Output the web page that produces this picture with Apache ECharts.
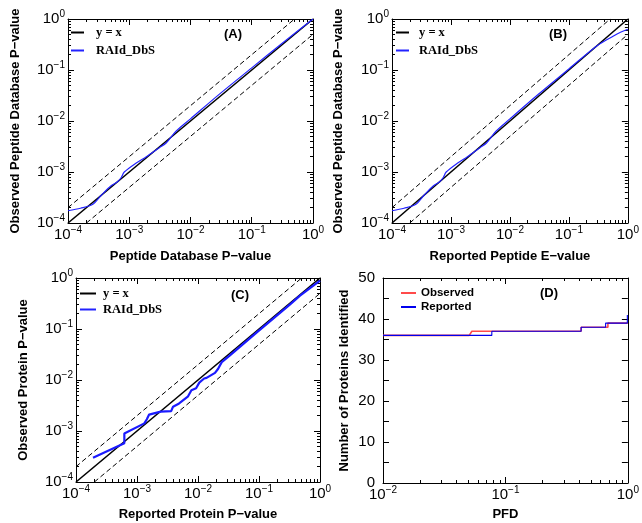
<!DOCTYPE html>
<html><head><meta charset="utf-8">
<script src="https://cdn.jsdelivr.net/npm/echarts@6/dist/echarts.min.js"></script>
<style>html,body{margin:0;padding:0;background:#fff}#c{width:642px;height:523px}</style>
</head><body><div id="c"></div>
<script>
// ---------- data ----------
const logMajorTicks = [1e-4, 1e-3, 1e-2, 1e-1, 1];
const pfdMajorTicks = [1e-2, 1e-1, 1];
const countTicks = [0, 10, 20, 30, 40, 50];

const diagX = [1e-4, 1];
const diagY = [1e-4, 1];
const upperX = [1e-4, 0.5];
const upperY = [2e-4, 1];
const lowerX = [2e-4, 1];
const lowerY = [1e-4, 0.5];

// Panel A: Peptide Database P-value vs observed
const aX = [1.0e-4, 1.6e-4, 2.5e-4, 3.5e-4, 5.0e-4, 6.5e-4, 7.4e-4, 8.3e-4, 1.3e-3, 1.9e-3, 3.1e-3, 4.0e-3, 5.8e-3, 1.0e-2, 3.0e-2, 0.1, 0.3, 1];
const aY = [1.74e-4, 1.95e-4, 2.3e-4, 3.5e-4, 5.3e-4, 6.5e-4, 7.8e-4, 1.0e-3, 1.5e-3, 2.0e-3, 3.0e-3, 3.7e-3, 6.3e-3, 1.1e-2, 3.4e-2, 0.11, 0.32, 1];

// Panel B: Reported peptide E-value vs observed
const bX = [1.0e-4, 1.6e-4, 2.5e-4, 3.5e-4, 5.0e-4, 6.5e-4, 7.4e-4, 8.3e-4, 1.3e-3, 1.9e-3, 3.1e-3, 4.0e-3, 5.8e-3, 1.0e-2, 3.0e-2, 0.1, 0.3, 0.56, 0.75, 1];
const bY = [1.74e-4, 1.95e-4, 2.3e-4, 3.5e-4, 5.3e-4, 6.5e-4, 7.8e-4, 1.0e-3, 1.5e-3, 2.0e-3, 3.0e-3, 3.7e-3, 6.3e-3, 1.1e-2, 3.3e-2, 0.105, 0.3, 0.46, 0.55, 0.63];

// Panel C: Reported protein P-value vs observed
const cX = [1.9e-4, 6.2e-4, 6.2e-4, 1.32e-3, 1.45e-3, 1.58e-3, 2.45e-3, 3.63e-3, 3.9e-3, 4.9e-3, 6.8e-3, 7.8e-3, 9.3e-3, 1.05e-2, 1.26e-2, 1.38e-2, 1.9e-2, 2.14e-2, 2.45e-2, 3.3e-2, 0.091, 0.32, 0.47, 1];
const cY = [3.0e-4, 5.75e-4, 8.9e-4, 1.41e-3, 1.7e-3, 2.1e-3, 2.4e-3, 2.45e-3, 3.0e-3, 3.47e-3, 4.7e-3, 6.3e-3, 6.9e-3, 8.9e-3, 1.07e-2, 1.1e-2, 1.38e-2, 1.66e-2, 2.24e-2, 3.0e-2, 0.085, 0.30, 0.45, 0.89];

// Panel D: number of proteins identified vs PFD
const dObsX = [0.01, 0.0506, 0.0532, 0.415, 0.415, 0.687, 0.687, 1.0];
const dObsY = [36, 36, 37, 37, 38, 38, 39, 39];
const dRepX = [0.01, 0.0774, 0.0774, 0.415, 0.415, 0.658, 0.658, 0.99, 0.99, 1.0];
const dRepY = [36, 36, 37, 37, 38, 38, 39, 39, 41, 41];

// ---------- helpers ----------
const zip = (xs, ys) => xs.map((x, i) => [x, ys[i]]);
const FONT = '"Liberation Sans", Arial, Helvetica, sans-serif';
const rich = {
  b: {fontSize: 15, lineHeight: 20, fontFamily: FONT, color: '#000'},
  s: {fontSize: 10, lineHeight: 10, verticalAlign: 'top', fontFamily: FONT, color: '#000'}
};
function pow10Label(v) {
  const e = Math.round(Math.log10(v));
  return '{b|10}{s|' + (e < 0 ? '\u2212' + (-e) : e) + '}';
}
const nameStyle = {fontFamily: FONT, fontWeight: 'bold', fontSize: 13, color: '#000'};
const lineBlack = {color: '#000', width: 1};

const xAxes = [], yAxes = [];
function addLogAxes(list, grid, min, max, positions, name, nameGap, isY) {
  const first = list.length;
  positions.forEach((pos, k) => {
    list.push({
      type: 'log', logBase: 10, gridIndex: grid, min: min, max: max, splitLine: {show: false},
      position: pos,
      name: k === 0 ? name : '',
      nameLocation: 'middle', nameGap: nameGap, nameTextStyle: nameStyle,
      axisLine: {show: true, onZero: false, lineStyle: lineBlack},
      axisTick: {show: true, inside: true, length: 6, lineStyle: lineBlack},
      minorTick: {show: true, splitNumber: 9, length: 3, lineStyle: lineBlack},
      axisLabel: {show: k === 0, formatter: pow10Label, rich: rich, margin: isY ? 3 : 2}
    });
  });
  return first;
}
function addValueY(grid, name, nameGap) {
  const first = yAxes.length;
  ['left', 'right'].forEach((pos, k) => {
    yAxes.push({
      type: 'value', gridIndex: grid, min: 0, max: 50, interval: 10, position: pos,
      name: k === 0 ? name : '', nameLocation: 'middle', nameGap: nameGap, nameTextStyle: nameStyle,
      splitLine: {show: false},
      axisLine: {show: true, onZero: false, lineStyle: lineBlack},
      axisTick: {show: true, inside: true, length: 6, lineStyle: lineBlack},
      minorTick: {show: true, splitNumber: 2, length: 6, lineStyle: lineBlack},
      axisLabel: {show: k === 0, fontSize: 15, fontFamily: FONT, color: '#000', margin: 8}
    });
  });
  return first;
}

const grids = [
  {left: 68, top: 19, width: 245, height: 204},
  {left: 392, top: 19, width: 244, height: 204},
  {left: 76, top: 278, width: 244, height: 204},
  {left: 383, top: 278, width: 245, height: 205}
];

const xA = addLogAxes(xAxes, 0, 1e-4, 1, ['bottom', 'top'], 'Peptide Database P\u2212value', 27, false);
const yA = addLogAxes(yAxes, 0, 1e-4, 1, ['left', 'right'], 'Observed Peptide Database P\u2212value', 46, true);
const xB = addLogAxes(xAxes, 1, 1e-4, 1, ['bottom', 'top'], 'Reported Peptide E\u2212value', 27, false);
const yB = addLogAxes(yAxes, 1, 1e-4, 1, ['left', 'right'], 'Observed Peptide Database P\u2212value', 47, true);
const xC = addLogAxes(xAxes, 2, 1e-4, 1, ['bottom', 'top'], 'Reported Protein P\u2212value', 26, false);
const yC = addLogAxes(yAxes, 2, 1e-4, 1, ['left', 'right'], 'Observed Protein P\u2212value', 46, true);
const xD = addLogAxes(xAxes, 3, 1e-2, 1, ['bottom', 'top'], 'PFD', 25, false);
const yD = addValueY(3, 'Number of Proteins Identified', 32);

const series = [];
function refLines(xi, yi) {
  series.push({name: 'y = x', type: 'line', xAxisIndex: xi, yAxisIndex: yi, data: zip(diagX, diagY),
    showSymbol: false, symbol: 'none', silent: true, lineStyle: {color: '#000', width: 1.6}, itemStyle: {color: '#000'}, z: 3});
  series.push({name: 'upper', type: 'line', xAxisIndex: xi, yAxisIndex: yi, data: zip(upperX, upperY),
    showSymbol: false, symbol: 'none', silent: true, lineStyle: {color: '#000', width: 1, type: [5, 3]}});
  series.push({name: 'lower', type: 'line', xAxisIndex: xi, yAxisIndex: yi, data: zip(lowerX, lowerY),
    showSymbol: false, symbol: 'none', silent: true, lineStyle: {color: '#000', width: 1, type: [5, 3]}});
}
refLines(xA, yA);
series.push({name: 'RAId_DbS', type: 'line', xAxisIndex: xA, yAxisIndex: yA, data: zip(aX, aY), showSymbol: false, symbol: 'none', smooth: 0.3,
  lineStyle: {color: '#2222ff', width: 1.2}, itemStyle: {color: '#2222ff'}, z: 4});
refLines(xB, yB);
series.push({name: 'RAId_DbS', type: 'line', xAxisIndex: xB, yAxisIndex: yB, data: zip(bX, bY), showSymbol: false, symbol: 'none', smooth: 0.3,
  lineStyle: {color: '#2222ff', width: 1.2}, itemStyle: {color: '#2222ff'}, z: 4});
refLines(xC, yC);
series.push({name: 'RAId_DbS', type: 'line', xAxisIndex: xC, yAxisIndex: yC, data: zip(cX, cY), showSymbol: false, symbol: 'none',
  lineStyle: {color: '#1a1aff', width: 2.2}, itemStyle: {color: '#1a1aff'}, z: 4});
series.push({name: 'Observed', type: 'line', xAxisIndex: xD, yAxisIndex: yD, data: zip(dObsX, dObsY), showSymbol: false, symbol: 'none',
  lineStyle: {color: '#ff4a4a', width: 1.6}, itemStyle: {color: '#ff4a4a'}, z: 3});
series.push({name: 'Reported', type: 'line', xAxisIndex: xD, yAxisIndex: yD, data: zip(dRepX, dRepY), showSymbol: false, symbol: 'none',
  lineStyle: {color: '#0000ee', width: 1.1}, itemStyle: {color: '#0000ee'}, z: 4});

const serifLegend = {fontFamily: '"Liberation Serif", "Times New Roman", serif', fontWeight: 'bold', fontSize: 12.5, color: '#000'};
const legends = [
  {left: 70, top: 26, itemWidth: 13, itemHeight: 14, itemGap: 5, textStyle: Object.assign({padding: [0, 0, 0, 7]}, serifLegend), data: ['y = x', 'RAId_DbS']},
  {left: 395, top: 26, itemWidth: 13, itemHeight: 14, itemGap: 5, textStyle: Object.assign({padding: [0, 0, 0, 5]}, serifLegend), data: ['y = x', 'RAId_DbS']},
  {left: 79, top: 287, itemWidth: 16, itemHeight: 14, itemGap: 3, textStyle: Object.assign({padding: [0, 0, 0, 2]}, serifLegend), data: ['y = x', 'RAId_DbS']},
  {left: 400, top: 287, itemWidth: 15, itemHeight: 12, itemGap: 2, textStyle: {fontFamily: FONT, fontWeight: 'bold', fontSize: 11.5, color: '#000'},
    data: ['Observed', 'Reported']}
].map(l => Object.assign({orient: 'vertical', selectedMode: false, padding: 0, itemStyle: {opacity: 0, borderWidth: 0}}, l));

const panelLabels = [['(A)', 233, 34], ['(B)', 558, 34], ['(C)', 240, 295], ['(D)', 549, 293]];

const chart = echarts.init(document.getElementById('c'), null, {renderer: 'canvas'});
chart.setOption({
  animation: false,
  backgroundColor: '#fff',
  grid: grids,
  xAxis: xAxes,
  yAxis: yAxes,
  legend: legends,
  series: series,
  graphic: panelLabels.map(p => ({type: 'text', x: p[1], y: p[2], silent: true,
    style: {text: p[0], align: 'center', verticalAlign: 'middle', font: 'bold 13px ' + FONT, fill: '#000'}}))
});
</script></body></html>
